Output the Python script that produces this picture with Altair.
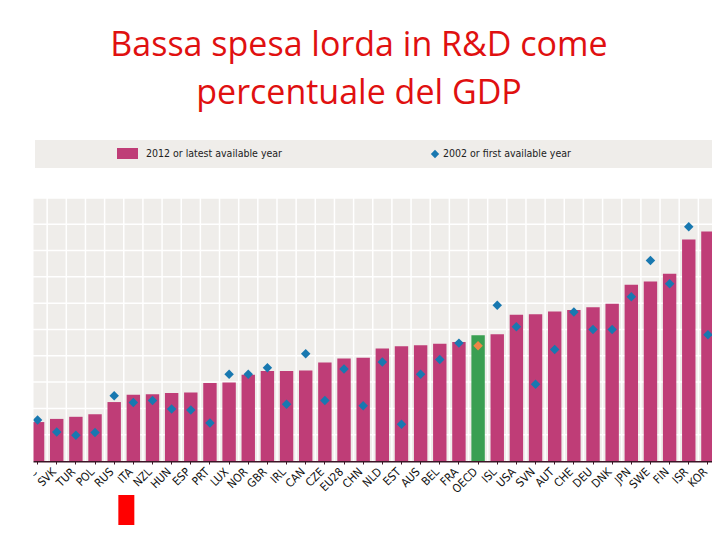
import altair as alt
import pandas as pd

# ---- data ----
categories = ["GRC", "SVK", "TUR", "POL", "RUS", "ITA", "NZL", "HUN", "ESP", "PRT",
              "LUX", "NOR", "GBR", "IRL", "CAN", "CZE", "EU28", "CHN", "NLD", "EST",
              "AUS", "BEL", "FRA", "OECD", "ISL", "USA", "SVN", "AUT", "CHE", "DEU",
              "DNK", "JPN", "SWE", "FIN", "ISR", "KOR"]
latest_values = [0.74, 0.80, 0.84, 0.89, 1.12, 1.26, 1.27, 1.29, 1.30, 1.48,
                 1.49, 1.64, 1.71, 1.71, 1.72, 1.87, 1.95, 1.96, 2.14, 2.18,
                 2.20, 2.23, 2.26, 2.39, 2.41, 2.78, 2.79, 2.84, 2.87, 2.92,
                 2.99, 3.35, 3.41, 3.56, 4.21, 4.36]
first_values = [0.78, 0.55, 0.49, 0.54, 1.24, 1.11, 1.15, 0.99, 0.97, 0.72,
                1.65, 1.65, 1.77, 1.08, 2.04, 1.15, 1.75, 1.05, 1.88, 0.70,
                1.65, 1.93, 2.24, 2.19, 2.96, 2.55, 1.46, 2.12, 2.83, 2.50,
                2.50, 3.12, 3.81, 3.37, 4.45, 2.40]
grid_values = [0.5, 1.0, 1.5, 2.0, 2.5, 3.0, 3.5, 4.0, 4.5, 5.0]
grid_top = 5.0
legend_labels = ["2012 or latest available year", "2002 or first available year"]
title_lines = ["Bassa spesa lorda in R&D come", "percentuale del GDP"]
highlight = "ITA"

df = pd.DataFrame({"cat": categories, "latest": latest_values, "first": first_values})
df["zero"] = 0.0
df["top"] = grid_top
grid_df = pd.DataFrame({"v": grid_values})
bg_df = pd.DataFrame({"y0": [0.0], "y1": [grid_top]})
one = pd.DataFrame({"k": [0]})

W, H = 684, 321
XR = 689.5          # band range runs past the right edge (reference is cropped there)
MAGENTA = "#bf3d77"
BLUE = "#1878b0"
GREEN = "#3a9f52"
ORANGE = "#f08545"
BG = "#efedea"
NARROW = "Liberation Sans Narrow, Arial Narrow, DejaVu Sans Condensed, sans-serif"

yscale = alt.Scale(domain=[0, 6.1], nice=False)
xscale = alt.Scale(domain=categories, paddingInner=0, paddingOuter=0, range=[0, XR])
xaxis = alt.Axis(title=None, labelAngle=-45, labelAlign="right", labelBaseline="middle",
                 labelFont=NARROW, labelFontSize=11.5, labelOffset=-2,
                 labelColor="#111111", domainColor="#3b1526", domainWidth=2,
                 tickColor="#3b1526", tickSize=3, grid=False, labelPadding=6)
X = alt.X("cat:N", axis=xaxis, scale=xscale)

bg = alt.Chart(bg_df).mark_rect(color=BG).encode(
    x=alt.value(0), x2=alt.value(W + 20),
    y=alt.Y("y1:Q", scale=yscale, axis=None), y2="y0:Q",
)
hgrid = alt.Chart(grid_df).mark_rule(color="white", strokeWidth=1.5).encode(
    y=alt.Y("v:Q", scale=yscale, axis=None), x=alt.value(0), x2=alt.value(W + 20)
)
vgrid = alt.Chart(df).mark_rule(color="white", strokeWidth=1.5).encode(
    x=alt.X("cat:N", axis=xaxis, scale=xscale, bandPosition=0),
    y=alt.Y("top:Q", scale=yscale, axis=None), y2="zero:Q",
)
bars = alt.Chart(df).mark_bar(width={"band": 0.7}).encode(
    x=X,
    y=alt.Y("latest:Q", scale=yscale, axis=None),
    color=alt.condition(alt.datum.cat == "OECD", alt.value(GREEN), alt.value(MAGENTA)),
)
points = alt.Chart(df).mark_point(shape="diamond", filled=True, size=90, opacity=1).encode(
    x=X,
    y=alt.Y("first:Q", scale=yscale, axis=None),
    color=alt.condition(alt.datum.cat == "OECD", alt.value(ORANGE), alt.value(BLUE)),
)

# legend band
band = alt.Chart(one).mark_rect(color=BG).encode(
    x=alt.value(7), x2=alt.value(W + 20), y=alt.value(0), y2=alt.value(28)
)
leg_sq = alt.Chart(one).mark_rect(color=MAGENTA).encode(
    x=alt.value(89), x2=alt.value(110), y=alt.value(8), y2=alt.value(19)
)
leg_t1 = alt.Chart(pd.DataFrame({"t": [legend_labels[0]]})).mark_text(
    align="left", baseline="middle", font=NARROW, fontSize=10.5, color="#222222"
).encode(x=alt.value(118), y=alt.value(14), text="t:N")
leg_dm = alt.Chart(one).mark_point(shape="diamond", filled=True, size=70, color=BLUE, opacity=1).encode(
    x=alt.value(407), y=alt.value(14)
)
leg_t2 = alt.Chart(pd.DataFrame({"t": [legend_labels[1]]})).mark_text(
    align="left", baseline="middle", font=NARROW, fontSize=10.5, color="#222222"
).encode(x=alt.value(415), y=alt.value(14), text="t:N")

# white mask on the left edge (reference image is cropped there)
mask = alt.Chart(one).mark_rect(color="white").encode(
    x=alt.value(-25), x2=alt.value(5.5), y=alt.value(-5), y2=alt.value(H + 60)
)
# red marker below ITA
marker = alt.Chart(pd.DataFrame({"cat": [highlight]})).mark_bar(
    color="#ff0000", width=16, xOffset=-7
).encode(x=X, y=alt.value(355), y2=alt.value(385))

chart = alt.layer(
    bg, hgrid, vgrid, bars, points, band, leg_sq, leg_t1, leg_dm, leg_t2, mask, marker
).properties(
    width=W, height=H,
    autosize=alt.AutoSizeParams(type="none"),
    padding={"left": 20, "top": 132, "right": 0, "bottom": 71},
    title=alt.TitleParams(title_lines, fontSize=34, font="Open Sans", color="#e01010",
                          fontWeight="normal", lineHeight=48, anchor="middle",
                          dx=-11, offset=24),
).configure_view(stroke=None)

chart.save("out.html", embed_options={"renderer": "svg", "actions": False})
